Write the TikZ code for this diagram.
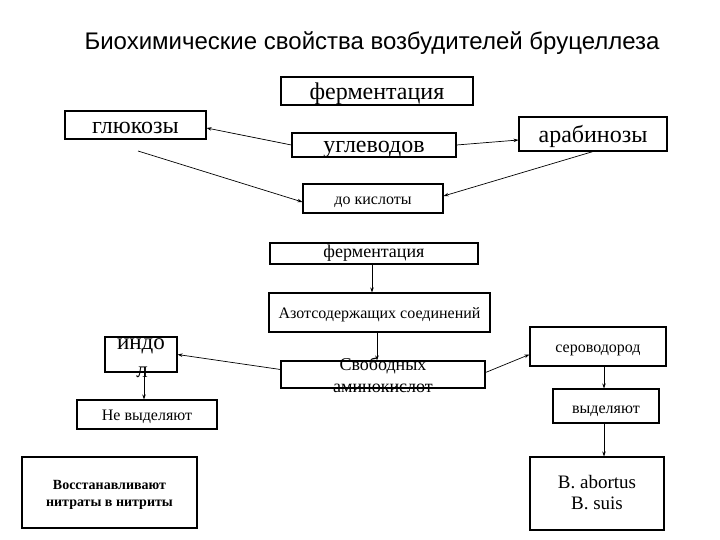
\documentclass[tikz,border=0pt]{standalone}
\usepackage{fontspec}
\setmainfont{Liberation Serif}
\newfontfamily\titlefont{Liberation Sans}
\usetikzlibrary{arrows.meta}
\newcommand\myfs[1]{\fontsize{#1}{#1}\selectfont}
\tikzset{
  box/.style={draw, line width=1.1pt, inner sep=0pt},
  arr/.style={-{Stealth[length=5pt,width=3.5pt]}, line width=0.7pt},
  lbl/.style={anchor=base, inner sep=0pt}
}
\begin{document}
\begin{tikzpicture}[x=1pt,y=-1pt]
\useasboundingbox (0,0) rectangle (720,540);
\fill[white] (0,0) rectangle (720,540);

% title
\node[lbl, font=\titlefont\myfs{24}] (title) at (372,50) {Биохимические свойства возбудителей бруцеллеза};

% boxes
\node[box, minimum width=192pt, minimum height=28pt] (f1) at (377,91) {};
\node[box, minimum width=141pt, minimum height=28pt] (g) at (135.5,125) {};
\node[box, minimum width=164pt, minimum height=24pt] (u) at (374,145) {};
\node[box, minimum width=148pt, minimum height=34pt] (a) at (593,134) {};
\node[box, minimum width=140pt, minimum height=29pt] (k) at (373,198.5) {};
\node[box, minimum width=208pt, minimum height=21pt] (f2) at (374,253.5) {};
\node[box, minimum width=221pt, minimum height=39pt] (az) at (379.5,312.5) {};
\node[box, minimum width=204pt, minimum height=27pt] (sv) at (383,374.5) {};
\node[box, minimum width=72pt, minimum height=35pt] (ind) at (141,354.5) {};
\node[box, minimum width=140pt, minimum height=29pt] (nv) at (147,414.5) {};
\node[box, minimum width=136pt, minimum height=39pt] (s) at (598,346.5) {};
\node[box, minimum width=106pt, minimum height=34pt] (v) at (606,406) {};
\node[box, minimum width=134pt, minimum height=73pt] (B) at (597,493.5) {};
\node[box, minimum width=175pt, minimum height=71pt] (R) at (109.5,492.5) {};

% texts
\node[lbl, font=\myfs{24}] (f1t) at (377,100) {ферментация};
\node[lbl, font=\myfs{24}] (gt) at (135.5,134) {глюкозы};
\node[lbl, font=\myfs{24}] (ut) at (374,153) {углеводов};
\node[lbl, font=\myfs{24}] (at) at (593,143) {арабинозы};
\node[lbl, font=\myfs{16}] (kt) at (373,205) {до кислоты};
\node[lbl, font=\myfs{18}] (f2t) at (374,258) {ферментация};
\node[lbl, font=\myfs{16}] (azt) at (379.5,318) {Азотсодержащих соединений};
\node[lbl, font=\myfs{18}] (svt1) at (383,370) {Свободных};
\node[lbl, font=\myfs{18}] (svt2) at (383,392) {аминокислот};
\node[lbl, font=\myfs{23}] (indt1) at (141,349) {индо};
\node[lbl, font=\myfs{23}] (indt2) at (142,377) {л};
\node[lbl, font=\myfs{16}] (nvt) at (147,420) {Не выделяют};
\node[lbl, font=\myfs{16}] (st) at (598,352) {сероводород};
\node[lbl, font=\myfs{16}] (vt) at (606,413) {выделяют};
\node[lbl, font=\myfs{19}] (Bt1) at (597,488) {B. abortus};
\node[lbl, font=\myfs{19}] (Bt2) at (597,509) {B. suis};
\node[lbl, font=\bfseries\myfs{14}] (Rt1) at (109.5,489) {Восстанавливают};
\node[lbl, font=\bfseries\myfs{14}] (Rt2) at (109.5,506) {нитраты в нитриты};

% connectors
\coordinate (gs) at (138,151);
\draw[arr] (u.west) -- ([yshift=-3pt]g.east);
\draw[arr] (u.east) -- ([yshift=-6pt]a.west);
\draw[arr] (gs) -- ([yshift=-3.5pt]k.west);
\draw[arr] (a.south) -- ([yshift=2.5pt]k.east);
\draw[arr] ([xshift=-2pt]f2.south) -- ([xshift=-7.5pt]az.north);
\draw[arr] ([xshift=-2.5pt]az.south) -- ([xshift=-6pt]sv.north);
\draw[arr] ([yshift=5pt]sv.west) -- (ind.east);
\draw[arr] ([yshift=2pt]sv.east) -- ([yshift=-8pt]s.west);
\draw[arr] ([xshift=3pt]ind.south) -- ([xshift=-3pt]nv.north);
\draw[arr] ([xshift=6pt]s.south) -- ([xshift=-2pt]v.north);
\draw[arr] ([xshift=-2pt]v.south) -- ([xshift=7pt]B.north);
\end{tikzpicture}
\end{document}
